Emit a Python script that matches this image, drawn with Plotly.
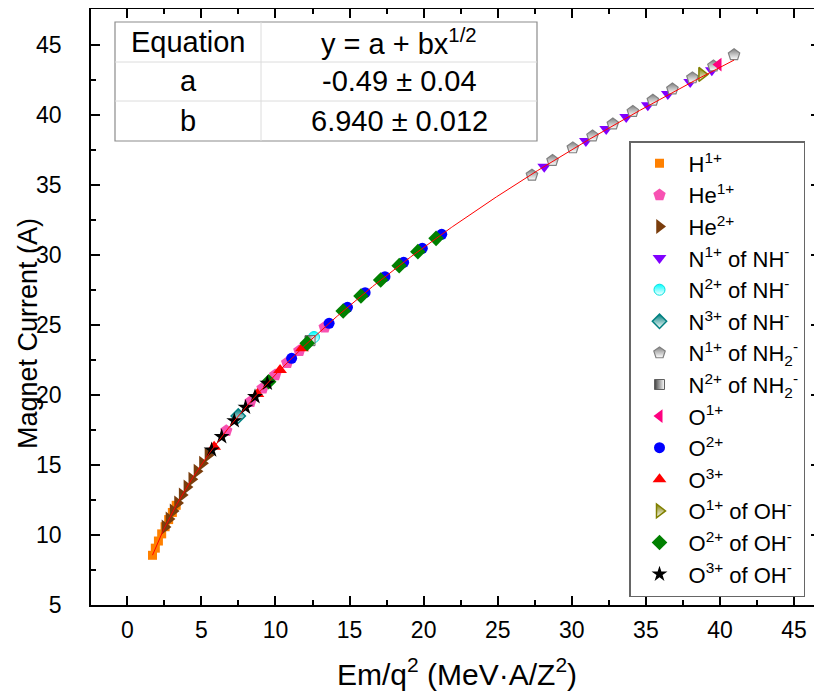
import numpy as np
import plotly.graph_objects as go

# ---------------- data ----------------
h1_x = [1.70, 1.89, 2.10, 2.32, 2.55, 2.79, 3.04, 3.30]
h1_y = [8.55, 9.06, 9.57, 10.08, 10.59, 11.10, 11.61, 12.12]

he1_x = [6.68, 8.31, 9.13, 9.98, 10.79, 11.61, 13.32]
he1_y = [17.45, 19.52, 20.48, 21.43, 22.31, 23.16, 24.84]

he2_x = [2.54, 2.81, 3.09, 3.39, 3.70, 4.02, 4.35, 4.70, 5.07, 5.44]
he2_y = [10.57, 11.14, 11.71, 12.28, 12.85, 13.42, 13.99, 14.56, 15.13, 15.70]

n1_nh_x = [28.14, 30.95, 32.32, 33.67, 35.13, 36.48, 37.99, 39.45]
n1_nh_y = [36.30, 38.15, 39.00, 39.85, 40.70, 41.50, 42.35, 43.20]

n2_nh_x = [12.60]
n2_nh_y = [24.14]

n3_nh_x = [7.49]
n3_nh_y = [18.50]

n1_nh2_x = [27.31, 28.70, 30.07, 31.40, 32.77, 34.12, 35.47, 36.79, 38.14, 39.56, 40.95]
n1_nh2_y = [35.70, 36.75, 37.65, 38.50, 39.35, 40.25, 41.05, 41.85, 42.65, 43.50, 44.30]

n2_nh2_x = [12.33]
n2_nh2_y = [23.88]

o1_x = [39.90]
o1_y = [43.60]

o2_x = [11.09, 13.62, 14.86, 16.05, 17.39, 18.65, 19.91, 21.22]
o2_y = [22.62, 25.12, 26.26, 27.31, 28.45, 29.48, 30.48, 31.48]

o3_x = [5.86, 8.78, 10.31, 11.79]
o3_y = [16.31, 20.07, 21.79, 23.34]

o1_oh_x = [38.78]
o1_oh_y = [42.90]

o2_oh_x = [9.54, 12.14, 14.57, 15.77, 17.10, 18.35, 19.61, 20.84]
o2_oh_y = [20.95, 23.69, 26.00, 27.07, 28.21, 29.24, 30.24, 31.19]

o3_oh_x = [5.69, 6.37, 7.22, 7.98, 8.62, 9.45]
o3_oh_y = [16.07, 17.02, 18.16, 19.12, 19.88, 20.84]

fit_a = -0.49
fit_b = 6.940
table_rows = [["Equation", "y = a + bx<sup>1/2</sup>"],
              ["a", "-0.49 ± 0.04"],
              ["b", "6.940 ± 0.012"]]

x_ticks = [0, 5, 10, 15, 20, 25, 30, 35, 40, 45]
y_ticks = [5, 10, 15, 20, 25, 30, 35, 40, 45]

x_title = "Em/q<sup>2</sup> (MeV·A/Z<sup>2</sup>)"
y_title = "Magnet Current (A)"

# ---------------- figure ----------------
FONT = "Arial, Liberation Sans, sans-serif"
OFF = 8                      # the page body adds an 8 px margin
W, H = 822 - OFF, 698 - OFF
# plot area in reference-picture pixels
L, R, T, B = 91, 820, 9, 605


def px(xp):
    return (xp - L) / (R - L)


def py(yp):
    return (B - yp) / (B - T)


series = [
    ("H<sup>1+</sup>", h1_x, h1_y, dict(symbol="square", color="#FF8000", size=9)),
    ("He<sup>1+</sup>", he1_x, he1_y, dict(symbol="pentagon", color="#F752B2", size=13)),
    ("He<sup>2+</sup>", he2_x, he2_y, dict(symbol="triangle-right", color="#7A3D0C", size=13)),
    ("N<sup>1+</sup> of NH<sup>-</sup>", n1_nh_x, n1_nh_y, dict(symbol="triangle-down", color="#8000FF", size=12)),
    ("N<sup>2+</sup> of NH<sup>-</sup>", n2_nh_x, n2_nh_y,
     dict(symbol="circle", color="#00FFFF", size=11, gradient=dict(type="vertical", color="white"),
          line=dict(color="#00E0E0", width=1))),
    ("N<sup>3+</sup> of NH<sup>-</sup>", n3_nh_x, n3_nh_y,
     dict(symbol="diamond", color="#008080", size=11, gradient=dict(type="vertical", color="white"),
          line=dict(color="#008080", width=1.5))),
    ("N<sup>1+</sup> of NH<sub>2</sub><sup>-</sup>", n1_nh2_x, n1_nh2_y,
     dict(symbol="pentagon", color="#808080", size=12, gradient=dict(type="vertical", color="white"),
          line=dict(color="#808080", width=1.2))),
    ("N<sup>2+</sup> of NH<sub>2</sub><sup>-</sup>", n2_nh2_x, n2_nh2_y,
     dict(symbol="square", color="#404040", size=10, gradient=dict(type="horizontal", color="white"),
          line=dict(color="#606060", width=1))),
    ("O<sup>1+</sup>", o1_x, o1_y, dict(symbol="triangle-left", color="#FF0080", size=12)),
    ("O<sup>2+</sup>", o2_x, o2_y, dict(symbol="circle", color="#0000FF", size=11)),
    ("O<sup>3+</sup>", o3_x, o3_y, dict(symbol="triangle-up", color="#FF0000", size=12)),
    ("O<sup>1+</sup> of OH<sup>-</sup>", o1_oh_x, o1_oh_y,
     dict(symbol="triangle-right", color="#808000", size=12, gradient=dict(type="vertical", color="white"),
          line=dict(color="#808000", width=1.5))),
    ("O<sup>2+</sup> of OH<sup>-</sup>", o2_oh_x, o2_oh_y, dict(symbol="diamond", color="#008000", size=12)),
    ("O<sup>3+</sup> of OH<sup>-</sup>", o3_oh_x, o3_oh_y, dict(symbol="star", color="#000000", size=12)),
]

fig = go.Figure()
for i, (name, xs, ys, mk) in enumerate(series):
    mk = dict(mk)
    mk.setdefault("line", dict(width=0))
    fig.add_trace(go.Scatter(x=xs, y=ys, mode="markers", name=name, marker=mk,
                             legendgroup=f"g{i}"))

all_x = [v for s in series for v in s[1]]
fx = np.linspace(min(all_x), max(all_x), 400)
fig.add_trace(go.Scatter(x=fx, y=fit_a + fit_b * np.sqrt(fx), mode="lines",
                         line=dict(color="#FF0000", width=1), showlegend=False,
                         hoverinfo="skip"))

axis_common = dict(showline=True, linecolor="black", linewidth=1.5, mirror="allticks",
                   ticks="inside", ticklen=9, tickwidth=1.5, tickcolor="black",
                   showgrid=False, zeroline=False, automargin=False,
                   tickfont=dict(family=FONT, size=23, color="black"))

fig.update_xaxes(range=[-2.45, 46.75], tickvals=x_ticks, ticktext=[str(v) for v in x_ticks],
                 minor=dict(dtick=2.5, tick0=0, ticks="inside", ticklen=5, tickwidth=1.5, tickcolor="black"),
                 ticklabelstandoff=4, **axis_common)
fig.update_yaxes(range=[5, 47.57], tickvals=y_ticks, ticktext=[str(v) for v in y_ticks],
                 minor=dict(dtick=2.5, tick0=0, ticks="inside", ticklen=5, tickwidth=1.5, tickcolor="black"),
                 ticklabelstandoff=23, **axis_common)

# axis titles
fig.add_annotation(x=px(457), y=py(672), xref="paper", yref="paper", text=x_title, showarrow=False,
                   xanchor="center", yanchor="middle", font=dict(family=FONT, size=30, color="black"))
fig.add_annotation(x=px(28), y=py(334), xref="paper", yref="paper", text=y_title, showarrow=False,
                   textangle=-90, xanchor="center", yanchor="middle",
                   font=dict(family=FONT, size=27, color="black"))

# ---- parameter table ----
tl, tr, tt, tb = 115, 537, 22, 141
row_lines = [62, 101]
col_line = 261
shapes = [dict(type="rect", xref="paper", yref="paper", x0=px(tl), x1=px(tr), y0=py(tb), y1=py(tt),
               line=dict(color="#8C8C8C", width=1.2), fillcolor="white", layer="above")]
for rl in row_lines:
    shapes.append(dict(type="line", xref="paper", yref="paper", x0=px(tl), x1=px(tr), y0=py(rl), y1=py(rl),
                       line=dict(color="#DCDCDC", width=1), layer="above"))
shapes.append(dict(type="line", xref="paper", yref="paper", x0=px(col_line), x1=px(col_line),
                   y0=py(tb), y1=py(tt), line=dict(color="#DCDCDC", width=1), layer="above"))
fig.update_layout(shapes=shapes)

row_centers = [42, 81.5, 121]
col_centers = [(tl + col_line) / 2, (col_line + tr) / 2]
for r, row in enumerate(table_rows):
    for c, txt in enumerate(row):
        fig.add_annotation(x=px(col_centers[c]), y=py(row_centers[r]), xref="paper", yref="paper",
                           text=txt, showarrow=False, xanchor="center", yanchor="middle",
                           font=dict(family=FONT, size=29, color="black"))

fig.update_layout(
    width=W, height=H,
    margin=dict(l=L - OFF, r=W - (R - OFF), t=T - OFF, b=H - (B - OFF), pad=0, autoexpand=False),
    plot_bgcolor="white", paper_bgcolor="white",
    legend=dict(x=px(629), y=py(141), xanchor="left", yanchor="top",
                bgcolor="white", bordercolor="#666666", borderwidth=1.5,
                font=dict(family=FONT, size=22, color="black"),
                tracegroupgap=0, itemwidth=48),
)

fig.write_html("out.html")
